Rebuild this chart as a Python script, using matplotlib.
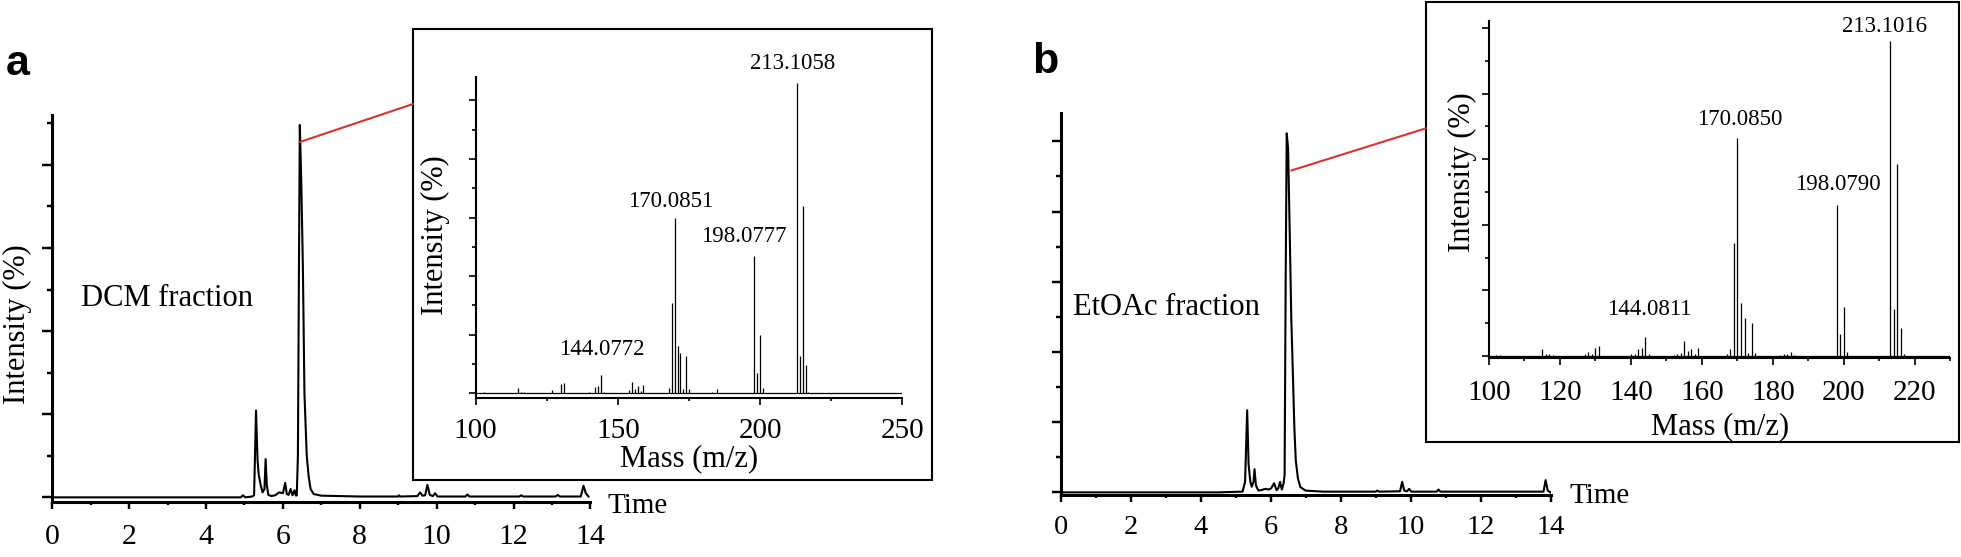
#!/usr/bin/env python
# -*- coding: utf-8 -*-
import sys
import matplotlib as mpl
mpl.use('Agg')
import matplotlib.pyplot as plt
from matplotlib.patches import Rectangle, ConnectionPatch
from matplotlib.ticker import MultipleLocator

# chromatogram a (DCM fraction): time (min), intensity (tick units)
dcm_time = [0, 4.9, 4.96, 5.02, 5.2, 5.25, 5.30, 5.34, 5.37, 5.42, 5.47, 5.52, 5.55, 5.58,
            5.62, 5.7, 5.8, 5.9, 6.0, 6.06, 6.1, 6.15, 6.2, 6.25, 6.3, 6.34, 6.36, 6.39,
            6.42, 6.44, 6.48, 6.52, 6.56, 6.62, 6.67, 6.72, 6.8, 7.0, 8.0, 9.0, 9.02,
            9.05, 9.5, 9.57, 9.63, 9.7, 9.76, 9.82, 9.9, 9.96, 10.02, 10.75, 10.8,
            10.85, 12.15, 12.2, 12.25, 13.1, 13.15, 13.2, 13.75, 13.82, 13.88, 13.95]
dcm_int = [0, 0, 0.05, 0, 0.02, 0.05, 2.09, 0.9, 0.55, 0.3, 0.12, 0.2, 0.92, 0.3,
           0.06, 0.03, 0.05, 0.12, 0.1, 0.35, 0.08, 0.06, 0.2, 0.05, 0.17, 0.04, 0.05, 1.0,
           6.0, 8.96, 7.5, 5.5, 2.5, 1.0, 0.5, 0.2, 0.08, 0.04, 0.02, 0.02, 0.05,
           0.02, 0.03, 0.12, 0.04, 0.05, 0.3, 0.06, 0.03, 0.1, 0.02, 0.02, 0.07,
           0.02, 0.02, 0.05, 0.02, 0.02, 0.06, 0.02, 0.02, 0.28, 0.1, 0.02]

# chromatogram b (EtOAc fraction)
eto_time = [0, 4.5, 5.2, 5.27, 5.33, 5.37, 5.42, 5.46, 5.51, 5.54, 5.58, 5.65, 5.75, 5.85,
            5.95, 6.02, 6.1, 6.17, 6.22, 6.27, 6.32, 6.37, 6.40, 6.43, 6.46, 6.50, 6.55,
            6.59, 6.63, 6.68, 6.72, 6.78, 6.85, 7.0, 7.5, 8.0, 9.0, 9.05, 9.1, 9.7, 9.76,
            9.82, 9.9, 9.96, 10.02, 10.75, 10.8, 10.85, 13.8, 13.86, 13.92, 14.0]
eto_int = [0, 0, 0.02, 0.3, 2.34, 0.8, 0.3, 0.16, 0.3, 0.66, 0.2, 0.05, 0.07, 0.1,
           0.08, 0.12, 0.26, 0.06, 0.12, 0.3, 0.08, 0.25, 0.5, 6.0, 10.23, 9.8, 7.2,
           5.0, 3.6, 1.8, 0.9, 0.4, 0.15, 0.05, 0.02, 0.02, 0.02, 0.05, 0.02, 0.03, 0.3,
           0.05, 0.03, 0.1, 0.02, 0.02, 0.08, 0.02, 0.02, 0.35, 0.05, 0.0]

# mass spectrum of the main peak, fraction a
dcm_mz = [103, 115, 116, 117, 127, 130, 131, 140, 142, 143, 144, 145, 154, 155, 156,
          157, 158, 159, 168, 169, 170, 171, 172, 173, 174, 175, 183, 185, 198, 199,
          200, 201, 213, 214, 215, 216, 217]
dcm_ab = [0.04, 0.17, 0.06, 0.05, 0.11, 0.32, 0.36, 0.05, 0.23, 0.25, 0.61, 0.06, 0.12,
          0.40, 0.15, 0.25, 0.07, 0.28, 0.17, 3.09, 5.97, 1.61, 1.39, 0.14, 1.27, 0.14,
          0.05, 0.14, 4.68, 0.68, 1.99, 0.17, 10.6, 1.27, 6.41, 0.97, 0.05]
dcm_lbl = ['144.0772', '170.0851', '198.0777', '213.1058']
dcm_lbl_x = [144.5, 168.5, 194.4, 211.5]
dcm_lbl_y = [1.31, 6.37, 5.17, 11.09]

# mass spectrum of the main peak, fraction b
eto_mz = [102, 103, 115, 116, 117, 118, 127, 128, 129, 130, 131, 140, 141, 142, 143,
          144, 145, 152, 153, 154, 155, 156, 157, 158, 159, 167, 168, 169, 170, 171,
          172, 173, 174, 175, 182, 183, 184, 185, 186, 198, 199, 200, 201, 213, 214,
          215, 216, 217]
eto_ab = [0.04, 0.04, 0.2, 0.05, 0.05, 0.04, 0.05, 0.12, 0.05, 0.26, 0.31, 0.06, 0.05,
          0.21, 0.23, 0.59, 0.05, 0.04, 0.05, 0.1, 0.47, 0.15, 0.21, 0.05, 0.23, 0.05,
          0.21, 3.46, 6.64, 1.61, 1.17, 0.1, 1.02, 0.08, 0.04, 0.05, 0.05, 0.12, 0.04,
          4.59, 0.66, 1.50, 0.13, 9.59, 1.42, 5.86, 0.84, 0.05]
eto_lbl = ['144.0811', '170.0850', '198.0790', '213.1016']
eto_lbl_x = [145.2, 170.7, 198.2, 211.3]
eto_lbl_y = [1.25, 7.04, 5.06, 9.89]

W, H = 1961, 557
RED = '#d8352a'


def px_box(x0, y0, x1, y1):
  # pixel box (top-left origin) -> figure fraction [l, b, w, h]
  return [x0 / W, 1 - y1 / H, (x1 - x0) / W, (y1 - y0) / H]


def style(ax, spine_lw, ymaj, ymin_len, xmaj, xmin_len, xpad, lsize):
  # lengths / pads in points
  for s in ('top', 'right'):
    ax.spines[s].set_visible(False)
  for s in ('left', 'bottom'):
    ax.spines[s].set_linewidth(spine_lw)
  ax.set_yticklabels([])
  tw = spine_lw * 0.8
  ax.tick_params(axis='y', which='major', length=ymaj, width=tw, direction='out')
  ax.tick_params(axis='y', which='minor', length=ymin_len, width=tw, direction='out')
  ax.tick_params(axis='x', which='major', length=xmaj, width=tw, direction='out',
                 pad=xpad, labelsize=lsize)
  ax.tick_params(axis='x', which='minor', length=xmin_len, width=tw, direction='out')
  ax.yaxis.set_major_locator(MultipleLocator(2))
  ax.yaxis.set_minor_locator(MultipleLocator(1))
  ax.set_facecolor('none')


def vtext(fig, x, y, s):
  fig.text(x / W, 1 - y / H, s, rotation=90, ha='center', va='center', fontsize=22)


def htext(fig, x, y, s, size):
  # x = left edge, y = baseline, in pixels from the top-left corner
  fig.text(x / W, 1 - y / H, s, ha='left', va='baseline', fontsize=size)


def main():
  plt.rcParams['font.family'] = ['Liberation Serif', 'DejaVu Serif']
  fig = plt.figure(figsize=(W / 100, H / 100), dpi=100)

  # ---- panel a main chromatogram
  ax_a = fig.add_axes(px_box(52.3, 115, 590.4, 501.5))
  ax_a.plot(dcm_time, dcm_int, color='black', lw=1.5)
  ax_a.set_xlim(0, 14)
  ax_a.set_ylim(-0.1, 9.2)
  style(ax_a, 2.2, 7.2, 3.6, 5, 2.5, 11.5, 21.5)
  ax_a.xaxis.set_major_locator(MultipleLocator(2))
  ax_a.xaxis.set_minor_locator(MultipleLocator(1))
  vtext(fig, 17.5, 324, 'Intensity (%)')
  htext(fig, 81, 306.5, 'DCM fraction', 22)
  htext(fig, 607, 513, 'Time', 21)
  fig.text(6 / W, 1 - 75 / H, 'a', ha='left', va='baseline', fontsize=31,
           fontweight='bold', family=['Liberation Sans', 'DejaVu Sans'])

  # ---- panel a inset spectrum
  fig.add_artist(Rectangle((413 / W, 1 - 480 / H), 519 / W, 451 / H,
                           transform=fig.transFigure, fill=False, lw=1.5, ec='black'))
  ia = fig.add_axes(px_box(475.7, 77, 902.3, 398.3))
  ia.axhline(0, color='black', lw=0.9)
  ia.vlines(dcm_mz, 0, dcm_ab, color='black', lw=0.9)
  ia.set_xlim(100, 250)
  ia.set_ylim(-0.17, 10.8)
  style(ia, 1.5, 5, 2.6, 4.8, 2.4, 9.6, 21)
  ia.xaxis.set_major_locator(MultipleLocator(50))
  ia.xaxis.set_minor_locator(MultipleLocator(25))
  ia.set_xlabel('Mass (m/z)', fontsize=22, labelpad=0)
  vtext(fig, 435, 235, 'Intensity (%)')
  for t, x, y in zip(dcm_lbl, dcm_lbl_x, dcm_lbl_y):
    ia.text(x, y, t, ha='center', va='baseline', fontsize=16.5, clip_on=False)

  fig.add_artist(ConnectionPatch(xyA=(6.44, 8.55), coordsA=ax_a.transData,
                                 xyB=(413 / W, 1 - 104 / H), coordsB=fig.transFigure,
                                 color=RED, lw=1.5))

  # ---- panel b main chromatogram
  ax_b = fig.add_axes(px_box(1060.7, 113.3, 1550.5, 494.8))
  ax_b.plot(eto_time, eto_int, color='black', lw=1.5)
  ax_b.set_xlim(0, 14)
  ax_b.set_ylim(-0.07, 10.8)
  style(ax_b, 2.2, 6.5, 3.6, 5, 2.5, 9.6, 20.5)
  ax_b.xaxis.set_major_locator(MultipleLocator(2))
  ax_b.xaxis.set_minor_locator(MultipleLocator(1))
  htext(fig, 1072.6, 315, 'EtOAc fraction', 22)
  htext(fig, 1569.6, 503.3, 'Time', 21)
  fig.text(1032 / W, 1 - 73 / H, 'b', ha='left', va='baseline', fontsize=31,
           fontweight='bold', family=['Liberation Sans', 'DejaVu Sans'])

  # ---- panel b inset spectrum
  fig.add_artist(Rectangle((1426 / W, 1 - 441.7 / H), 533 / W, 440 / H,
                           transform=fig.transFigure, fill=False, lw=1.5, ec='black'))
  ib = fig.add_axes(px_box(1489, 20.7, 1950.4, 358))
  ib.axhline(0, color='black', lw=0.9)
  ib.vlines(eto_mz, 0, eto_ab, color='black', lw=0.9)
  ib.set_xlim(100, 230)
  ib.set_ylim(-0.06, 10.22)
  style(ib, 1.5, 5, 2.6, 4.8, 2.4, 11.3, 21)
  ib.xaxis.set_major_locator(MultipleLocator(20))
  ib.xaxis.set_minor_locator(MultipleLocator(10))
  ib.set_xlabel('Mass (m/z)', fontsize=22, labelpad=3.9)
  vtext(fig, 1462, 172, 'Intensity (%)')
  for t, x, y in zip(eto_lbl, eto_lbl_x, eto_lbl_y):
    ib.text(x, y, t, ha='center', va='baseline', fontsize=16.5, clip_on=False)

  fig.add_artist(ConnectionPatch(xyA=(6.59, 9.17), coordsA=ax_b.transData,
                                 xyB=(1426 / W, 1 - 128.3 / H), coordsB=fig.transFigure,
                                 color=RED, lw=1.5))

  fig.savefig('out.png', dpi=100)


if __name__ == "__main__":
  sys.exit(main())
